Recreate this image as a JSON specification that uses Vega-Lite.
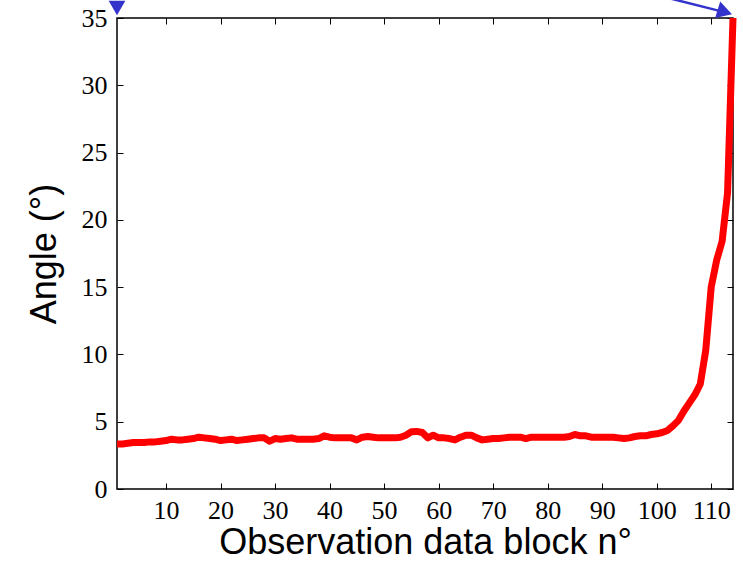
{
  "$schema": "https://vega.github.io/schema/vega-lite/v6.json",
  "autosize": "none",
  "width": 616,
  "height": 471,
  "padding": {"left": 117, "top": 18, "right": 10, "bottom": 74},
  "background": "white",
  "config": {
    "view": {"stroke": "black", "strokeWidth": 1.5},
    "axis": {
      "grid": false,
      "domain": false,
      "tickColor": "black",
      "tickSize": -6,
      "tickWidth": 1,
      "labelFont": "Liberation Serif",
      "labelFontSize": 26,
      "labelColor": "black",
      "titleFont": "Liberation Sans",
      "titleFontSize": 36,
      "titleFontWeight": "normal",
      "titleColor": "black"
    }
  },
  "datasets": {
    "angle": [
      {"block": 1, "angle": 3.35}, {"block": 2, "angle": 3.35}, {"block": 3, "angle": 3.4}, {"block": 4, "angle": 3.45},
      {"block": 5, "angle": 3.45}, {"block": 6, "angle": 3.45}, {"block": 7, "angle": 3.5}, {"block": 8, "angle": 3.5},
      {"block": 9, "angle": 3.55}, {"block": 10, "angle": 3.6}, {"block": 11, "angle": 3.7}, {"block": 12, "angle": 3.65},
      {"block": 13, "angle": 3.65}, {"block": 14, "angle": 3.7}, {"block": 15, "angle": 3.75}, {"block": 16, "angle": 3.85},
      {"block": 17, "angle": 3.8}, {"block": 18, "angle": 3.75}, {"block": 19, "angle": 3.7}, {"block": 20, "angle": 3.6},
      {"block": 21, "angle": 3.65}, {"block": 22, "angle": 3.7}, {"block": 23, "angle": 3.6}, {"block": 24, "angle": 3.65},
      {"block": 25, "angle": 3.7}, {"block": 26, "angle": 3.75}, {"block": 27, "angle": 3.8}, {"block": 28, "angle": 3.8},
      {"block": 29, "angle": 3.55}, {"block": 30, "angle": 3.75}, {"block": 31, "angle": 3.7}, {"block": 32, "angle": 3.75},
      {"block": 33, "angle": 3.8}, {"block": 34, "angle": 3.7}, {"block": 35, "angle": 3.7}, {"block": 36, "angle": 3.7},
      {"block": 37, "angle": 3.7}, {"block": 38, "angle": 3.75}, {"block": 39, "angle": 3.95}, {"block": 40, "angle": 3.85},
      {"block": 41, "angle": 3.8}, {"block": 42, "angle": 3.8}, {"block": 43, "angle": 3.8}, {"block": 44, "angle": 3.8},
      {"block": 45, "angle": 3.65}, {"block": 46, "angle": 3.85}, {"block": 47, "angle": 3.9}, {"block": 48, "angle": 3.85},
      {"block": 49, "angle": 3.8}, {"block": 50, "angle": 3.8}, {"block": 51, "angle": 3.8}, {"block": 52, "angle": 3.8},
      {"block": 53, "angle": 3.85}, {"block": 54, "angle": 4.0}, {"block": 55, "angle": 4.25}, {"block": 56, "angle": 4.28},
      {"block": 57, "angle": 4.2}, {"block": 58, "angle": 3.8}, {"block": 59, "angle": 4.0}, {"block": 60, "angle": 3.8},
      {"block": 61, "angle": 3.8}, {"block": 62, "angle": 3.75}, {"block": 63, "angle": 3.65}, {"block": 64, "angle": 3.85},
      {"block": 65, "angle": 4.0}, {"block": 66, "angle": 4.0}, {"block": 67, "angle": 3.8}, {"block": 68, "angle": 3.65},
      {"block": 69, "angle": 3.7}, {"block": 70, "angle": 3.75}, {"block": 71, "angle": 3.75}, {"block": 72, "angle": 3.8},
      {"block": 73, "angle": 3.85}, {"block": 74, "angle": 3.85}, {"block": 75, "angle": 3.85}, {"block": 76, "angle": 3.75},
      {"block": 77, "angle": 3.85}, {"block": 78, "angle": 3.85}, {"block": 79, "angle": 3.85}, {"block": 80, "angle": 3.85},
      {"block": 81, "angle": 3.85}, {"block": 82, "angle": 3.85}, {"block": 83, "angle": 3.85}, {"block": 84, "angle": 3.9},
      {"block": 85, "angle": 4.05}, {"block": 86, "angle": 3.95}, {"block": 87, "angle": 3.95}, {"block": 88, "angle": 3.85},
      {"block": 89, "angle": 3.85}, {"block": 90, "angle": 3.85}, {"block": 91, "angle": 3.85}, {"block": 92, "angle": 3.85},
      {"block": 93, "angle": 3.8}, {"block": 94, "angle": 3.75}, {"block": 95, "angle": 3.8}, {"block": 96, "angle": 3.9},
      {"block": 97, "angle": 3.95}, {"block": 98, "angle": 3.95}, {"block": 99, "angle": 4.05}, {"block": 100, "angle": 4.1},
      {"block": 101, "angle": 4.2}, {"block": 102, "angle": 4.35}, {"block": 103, "angle": 4.7}, {"block": 104, "angle": 5.1},
      {"block": 105, "angle": 5.8}, {"block": 106, "angle": 6.4}, {"block": 107, "angle": 7.0}, {"block": 108, "angle": 7.8},
      {"block": 109, "angle": 10.3}, {"block": 110, "angle": 15.0}, {"block": 111, "angle": 17.0}, {"block": 112, "angle": 18.4},
      {"block": 113, "angle": 22.0}, {"block": 114, "angle": 35.0}
    ],
    "arrowShaft": [
      {"block": 102.0, "angle": 36.5},
      {"block": 112.8, "angle": 35.4}
    ],
    "arrowHeadRight": [
      {"block": 112.5, "angle": 35.45}
    ],
    "arrowHeadLeft": [
      {"block": 1.0, "angle": 35.75}
    ]
  },
  "layer": [
    {
      "data": {"name": "angle"},
      "mark": {"type": "line", "color": "#ff0000", "strokeWidth": 7, "clip": false, "strokeJoin": "round", "strokeCap": "butt"},
      "encoding": {
        "x": {
          "field": "block", "type": "quantitative",
          "scale": {"domain": [1, 114], "nice": false, "zero": false},
          "axis": {"values": [10, 20, 30, 40, 50, 60, 70, 80, 90, 100, 110], "title": "Observation data block n°", "labelPadding": 14, "titlePadding": 2, "orient": "bottom"}
        },
        "y": {
          "field": "angle", "type": "quantitative",
          "scale": {"domain": [0, 35], "nice": false},
          "axis": {"values": [0, 5, 10, 15, 20, 25, 30, 35], "title": "Angle (°)", "labelPadding": 16, "titlePadding": 18, "orient": "left"}
        }
      }
    },
    {
      "data": {"name": "angle"},
      "mark": {"type": "line", "opacity": 0},
      "encoding": {
        "x": {"field": "block", "type": "quantitative", "axis": {"values": [10, 20, 30, 40, 50, 60, 70, 80, 90, 100, 110], "labels": false, "title": null, "orient": "top"}},
        "y": {"field": "angle", "type": "quantitative", "axis": {"values": [0, 5, 10, 15, 20, 25, 30, 35], "labels": false, "title": null, "orient": "right"}}
      }
    },
    {
      "data": {"name": "arrowShaft"},
      "mark": {"type": "line", "color": "#3333cc", "strokeWidth": 2.5, "clip": false},
      "encoding": {
        "x": {"field": "block", "type": "quantitative", "axis": null},
        "y": {"field": "angle", "type": "quantitative", "axis": null}
      }
    },
    {
      "data": {"name": "arrowHeadRight"},
      "mark": {"type": "point", "shape": "triangle-right", "filled": true, "color": "#3333cc", "size": 300, "angle": 17, "opacity": 1, "clip": false},
      "encoding": {
        "x": {"field": "block", "type": "quantitative", "axis": null},
        "y": {"field": "angle", "type": "quantitative", "axis": null}
      }
    },
    {
      "data": {"name": "arrowHeadLeft"},
      "mark": {"type": "point", "shape": "triangle-down", "filled": true, "color": "#3333cc", "size": 280, "opacity": 1, "clip": false},
      "encoding": {
        "x": {"field": "block", "type": "quantitative", "axis": null},
        "y": {"field": "angle", "type": "quantitative", "axis": null}
      }
    }
  ],
  "resolve": {"axis": {"x": "independent", "y": "independent"}}
}
